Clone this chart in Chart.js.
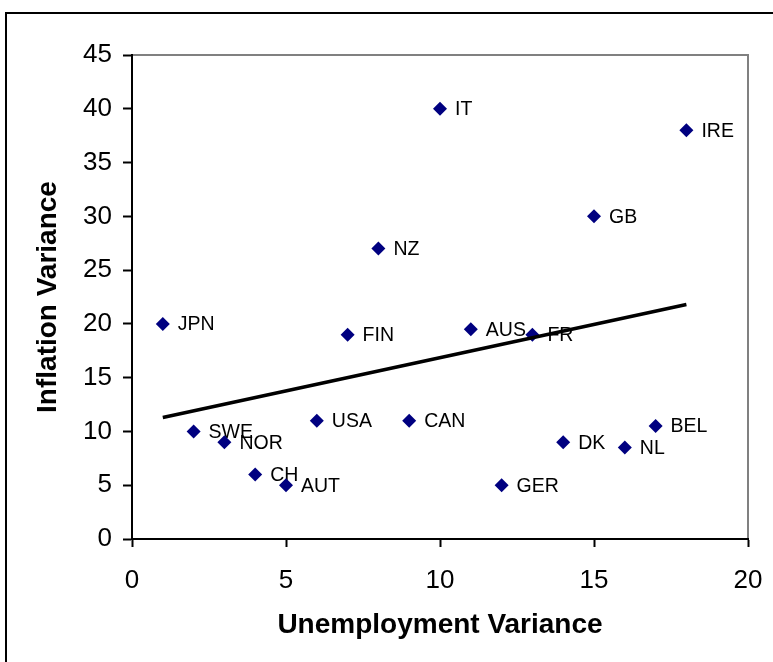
<!DOCTYPE html>
<html>
<head>
<meta charset="utf-8">
<script src="https://cdn.jsdelivr.net/npm/chart.js@4.4.1/dist/chart.umd.min.js"></script>
<style>
  html, body { margin: 0; padding: 0; background: #fff; overflow: hidden; }
  #wrap { position: relative; width: 773px; height: 662px; }
  #frame {
    position: absolute; left: 5px; top: 12px;
    width: 820px; height: 700px;
    border: 2px solid #000;
  }
  #chart { position: absolute; left: 0; top: 0; }
</style>
</head>
<body>
<div id="wrap">
  <div id="frame"></div>
  <canvas id="chart" width="773" height="662"></canvas>
</div>
<script>
const countries = ['JPN', 'SWE', 'NOR', 'CH', 'AUT', 'USA', 'FIN', 'NZ', 'CAN', 'IT',
                   'AUS', 'GER', 'FR', 'DK', 'GB', 'NL', 'BEL', 'IRE'];
const unemploymentVar = [1, 2, 3, 4, 5, 6, 7, 8, 9, 10, 11, 12, 13, 14, 15, 16, 17, 18];
const inflationVar = [20, 10, 9, 6, 5, 11, 19, 27, 11, 40, 19.5, 5, 19, 9, 30, 8.5, 10.5, 38];
// linear trend, end points
const trendX = [1, 18];
const trendY = [11.3, 21.8];

const FONT = 'Arial, "Liberation Sans", sans-serif';

const points = unemploymentVar.map((x, i) => ({ x: x, y: inflationVar[i] }));
const trend = trendX.map((x, i) => ({ x: x, y: trendY[i] }));

// gray box on top/right of the plot area
const plotBox = {
  id: 'plotBox',
  beforeDraw(chart) {
    const { ctx, chartArea: a } = chart;
    ctx.save();
    ctx.strokeStyle = '#808080';
    ctx.lineWidth = 2;
    ctx.strokeRect(a.left, a.top, a.right - a.left, a.bottom - a.top);
    ctx.restore();
  }
};

// country names next to each marker
const pointLabels = {
  id: 'pointLabels',
  beforeDatasetsDraw(chart) {
    const meta = chart.getDatasetMeta(1);
    const ctx = chart.ctx;
    ctx.save();
    ctx.font = '19.5px ' + FONT;
    ctx.fillStyle = '#000';
    ctx.textAlign = 'left';
    ctx.textBaseline = 'middle';
    meta.data.forEach((pt, i) => {
      ctx.fillText(countries[i], pt.x + 15, pt.y + 1);
    });
    ctx.restore();
  }
};

new Chart(document.getElementById('chart'), {
  type: 'scatter',
  data: {
    datasets: [
      {
        type: 'line',
        data: trend,
        borderColor: '#000',
        borderWidth: 3.5,
        pointRadius: 0,
        fill: false,
        order: 0
      },
      {
        data: points,
        pointStyle: 'rectRot',
        pointRadius: 7,
        pointHoverRadius: 7,
        backgroundColor: '#000080',
        borderColor: '#000080',
        borderWidth: 0,
        order: 1
      }
    ]
  },
  options: {
    responsive: false,
    animation: false,
    layout: { padding: { left: 0, top: 55, right: 25, bottom: 0 } },
    plugins: {
      legend: { display: false },
      tooltip: { enabled: false }
    },
    scales: {
      x: {
        type: 'linear',
        min: 0, max: 20,
        afterFit(s) {
          s.height = 123;
          s.paddingLeft = 0;
          s.paddingRight = 0;
        },
        ticks: { stepSize: 5, padding: 18, color: '#000', font: { family: FONT, size: 26 } },
        grid: { drawOnChartArea: false, tickLength: 8, tickColor: '#000', tickWidth: 2 },
        border: { color: '#000', width: 2 },
        title: {
          display: true,
          text: 'Unemployment Variance',
          color: '#000',
          font: { family: FONT, size: 28, weight: 'bold' },
          padding: { top: 0, bottom: 20 }
        }
      },
      y: {
        min: 0, max: 45,
        afterFit(s) {
          s.width = 132;
          s.paddingTop = 0;
          s.paddingBottom = 0;
        },
        ticks: { stepSize: 5, padding: 11, color: '#000', font: { family: FONT, size: 26 } },
        grid: { drawOnChartArea: false, tickLength: 9, tickColor: '#000', tickWidth: 2 },
        border: { color: '#000', width: 2 },
        title: {
          display: true,
          text: 'Inflation Variance',
          color: '#000',
          font: { family: FONT, size: 28, weight: 'bold' },
          padding: { top: 31, bottom: 0 }
        }
      }
    }
  },
  plugins: [plotBox, pointLabels]
});
</script>
</body>
</html>
